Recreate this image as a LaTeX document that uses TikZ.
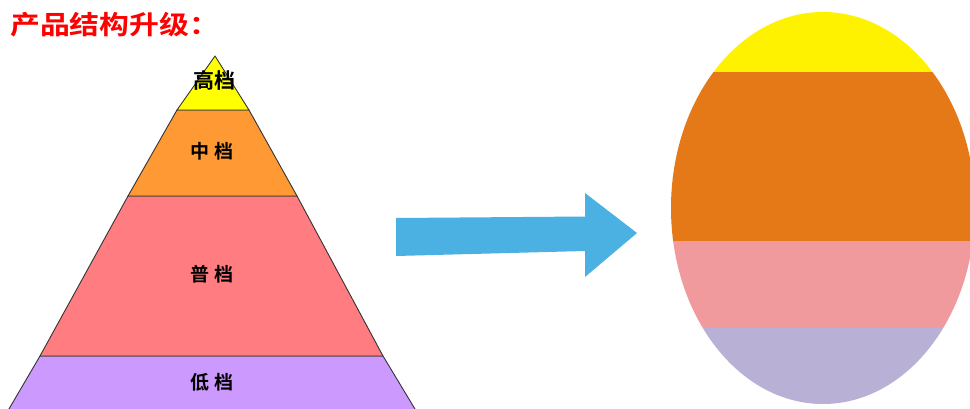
\documentclass[tikz,border=0pt]{standalone}
\usepackage{fontspec}
\newfontfamily\cjk{Noto Sans CJK SC}[BoldFont={Noto Sans CJK SC Bold}]
\definecolor{pyYellow}{RGB}{255,255,0}
\definecolor{pyOrange}{RGB}{255,153,51}
\definecolor{pyPink}{RGB}{255,124,128}
\definecolor{pyPurple}{RGB}{204,153,255}
\definecolor{elYellow}{RGB}{255,242,0}
\definecolor{elOrange}{RGB}{229,120,23}
\definecolor{elPink}{RGB}{240,154,158}
\definecolor{elPurple}{RGB}{184,177,213}
\definecolor{arrowBlue}{RGB}{75,177,227}
\definecolor{titleRed}{RGB}{255,0,0}
\tikzset{
  layer/.style={draw=black!80, line width=0.9pt, line join=round},
  lbl/.style={font=\cjk\bfseries\fontsize{19}{19}\selectfont, inner sep=0pt, text height=0.83em, text depth=0.07em},
}
\begin{document}
\begin{tikzpicture}[x=1pt,y=-1pt]
\useasboundingbox (0,0) rectangle (970,408);
\fill[white] (0,0) rectangle (970,408);
% pyramid
\begin{scope}
\clip (0,0) rectangle (970,408);
\filldraw[layer, fill=pyPurple] (40,356) -- (383,356) -- (418,414) -- (6,414) -- cycle;
\filldraw[layer, fill=pyPink] (128,196) -- (297,196) -- (383,356) -- (40,356) -- cycle;
\filldraw[layer, fill=pyOrange] (177,110) -- (249,110) -- (297,196) -- (128,196) -- cycle;
\filldraw[layer, fill=pyYellow] (215,56) -- (249,110) -- (177,110) -- cycle;
\end{scope}
\node[lbl, font=\cjk\bfseries\fontsize{21}{21}\selectfont] (high) at (214,85) {高档};
\node[lbl] (mid) at (212,155) {中\ 档};
\node[lbl] (norm) at (212,278) {普\ 档};
\node[lbl] (low) at (212,386) {低\ 档};
% title
\node[anchor=west, inner sep=0pt, text=titleRed, font=\cjk\bfseries\fontsize{26}{26}\selectfont, text height=0.83em, text depth=0.07em] (title) at (10,31) {\scalebox{1.15}[1]{产品结构升级：}};
% arrow
\fill[arrowBlue] (396,218) -- (585,216.5) -- (585,193) -- (637,233) -- (585,277) -- (585,251) -- (396,256) -- cycle;
% ellipse
\begin{scope}
\clip (0,0) rectangle (970,408);
\clip (823,208) ellipse [x radius=152, y radius=196];
\fill[elYellow] (660,0) rectangle (980,72);
\fill[elOrange] (660,72) rectangle (980,241);
\fill[elPink] (660,241) rectangle (980,328);
\fill[elPurple] (660,328) rectangle (980,410);
\end{scope}
\end{tikzpicture}
\end{document}
